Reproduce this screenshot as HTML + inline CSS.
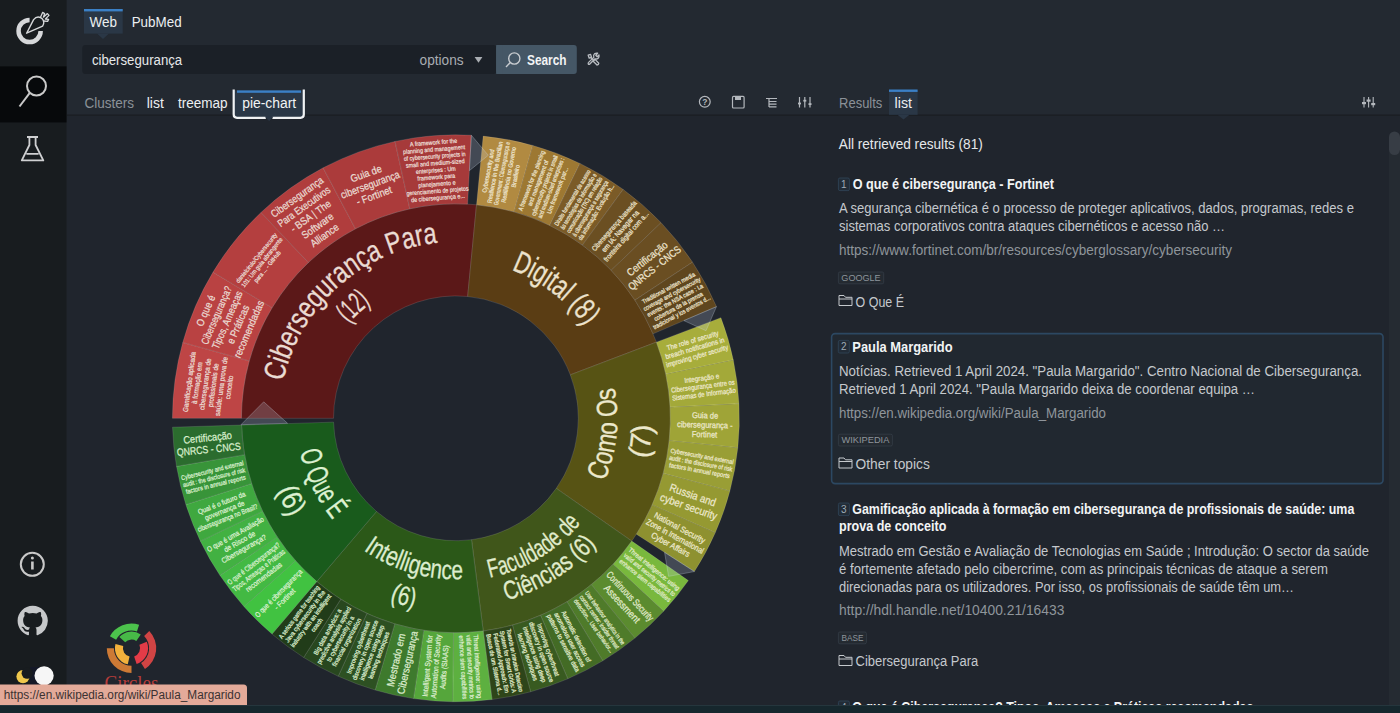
<!DOCTYPE html>
<html><head><meta charset="utf-8"><style>
html,body{margin:0;padding:0;background:#20252d;overflow:hidden}
svg{display:block;font-family:"Liberation Sans", sans-serif}
</style></head><body>
<svg width="1400" height="713" viewBox="0 0 1400 713">
<rect x="0" y="0" width="1400" height="713" fill="#20252d"/><rect x="67" y="0" width="1333" height="115" fill="#232931"/><rect x="0" y="0" width="66.5" height="713" fill="#181c1f"/><rect x="0" y="66.4" width="66.5" height="56" fill="#07090b"/><rect x="67" y="114.5" width="1333" height="1.2" fill="#1a1d22"/><path d="M 40.65 31 A 11.05 11.05 0 1 1 29.6 19.95" fill="none" stroke="#d6d8da" stroke-width="4.5"/><path d="M 26.6 33.2 L 33.6 19.6 Q 36.8 15.6 40.6 17.6 L 42.2 18.8 Q 45.2 22.2 42.6 26.2 Z" fill="#181c1f" stroke="#d6d8da" stroke-width="1.4" stroke-linejoin="round"/><path d="M 40.4 17.4 L 42.6 12.4 L 44.6 13.6 L 43.4 17.2 L 47.4 13.6 L 49 15.4 L 45.4 19 L 48.6 19.4 L 47.6 21.4 L 43.6 21" fill="none" stroke="#d6d8da" stroke-width="1.3" stroke-linejoin="round"/><g fill="none" stroke="#c9c9c9" stroke-width="2"><circle cx="36.5" cy="86" r="9.5"/><path d="M 29.8 92.8 L 19.5 106.5"/></g><path d="M 27 137 L 38 137 M 29.4 137 L 29.4 145 L 21.8 160.4 L 43.3 160.4 L 35.6 145 L 35.6 137 M 26.4 153.8 L 38.6 153.8" fill="none" stroke="#cfd0d2" stroke-width="1.8" stroke-linejoin="round"/><g fill="none" stroke="#c9c9c9" stroke-width="2"><circle cx="32.3" cy="564.3" r="11.5"/></g><rect x="31.1" y="561.5" width="2.6" height="8" fill="#c9c9c9"/><circle cx="32.4" cy="558" r="1.5" fill="#c9c9c9"/><g transform="translate(17.6,605.7) scale(1.89)"><path fill="#c6c8ca" d="M8 0C3.58 0 0 3.58 0 8c0 3.54 2.29 6.53 5.47 7.59.4.07.55-.17.55-.38 0-.19-.01-.82-.01-1.49-2.01.37-2.53-.49-2.69-.94-.09-.23-.48-.94-.82-1.13-.28-.15-.68-.52-.01-.53.63-.01 1.08.58 1.23.82.72 1.21 1.87.87 2.33.66.07-.52.28-.87.51-1.07-1.780-.2-3.640-.89-3.640-3.95 0-.87.31-1.59.82-2.15-.08-.2-.36-1.02.08-2.12 0 0 .67-.21 2.2.82.64-.18 1.32-.27 2-.27.68 0 1.36.09 2 .27 1.53-1.04 2.2-.82 2.2-.82.44 1.1.16 1.92.08 2.12.51.56.82 1.27.82 2.15 0 3.07-1.87 3.75-3.65 3.95.29.25.54.73.54 1.48 0 1.07-.01 1.93-.01 2.2 0 .21.15.46.55.38A8.013 8.013 0 0016 8c0-4.42-3.58-8-8-8z"/></g><rect x="30" y="667" width="10" height="18" fill="#141827"/><circle cx="23" cy="676.6" r="6.6" fill="#f0c84c"/><circle cx="27.2" cy="673.2" r="5.6" fill="#181c1f"/><circle cx="44.1" cy="675.8" r="9.6" fill="#f6f6f6"/><rect x="84" y="9" width="38.7" height="24.6" fill="#2a3746"/><rect x="84" y="9" width="38.7" height="2.4" fill="#3b80c6"/><path d="M 97 33.6 L 109 33.6 L 103 39 Z" fill="#2a3746"/><text x="89.6" y="26.8" font-size="14" fill="#eceff1" textLength="27.4" lengthAdjust="spacingAndGlyphs" >Web</text><text x="131.7" y="26.8" font-size="14" fill="#eceff1" textLength="49.9" lengthAdjust="spacingAndGlyphs" >PubMed</text><rect x="82.3" y="45" width="414" height="29" rx="3" fill="#1b2027"/><text x="91.9" y="64.6" font-size="14" fill="#e6e8ea" textLength="90.3" lengthAdjust="spacingAndGlyphs" >cibersegurança</text><text x="419.6" y="64.6" font-size="14" fill="#a9adb2" textLength="44.0" lengthAdjust="spacingAndGlyphs" >options</text><path d="M 474.6 57 L 482.4 57 L 478.5 62.8 Z" fill="#a9adb2"/><rect x="496.2" y="45" width="80.6" height="29" rx="3" fill="#455766"/><rect x="496.2" y="45" width="6" height="29" fill="#455766"/><g fill="none" stroke="#c8ccd0" stroke-width="1.4"><circle cx="514.3" cy="58.5" r="5.6"/><path d="M 510.3 62.5 L 506 67"/></g><text x="527.0" y="64.6" font-size="14" fill="#f2f4f5" font-weight="bold" textLength="39.6" lengthAdjust="spacingAndGlyphs" >Search</text><g fill="none" stroke="#b9bdc2" stroke-width="1.3" stroke-linecap="round" stroke-linejoin="round"><path d="M 588.2 55.2 L 590.6 54.4 L 591.6 57.4 L 589.2 58.2 Z"/><path d="M 590.6 57.2 L 593.6 60.2"/><path d="M 593.2 61.2 L 595 59.4 L 598.8 63.2 Q 598.8 65 597 65 Z"/><path d="M 588.4 64.2 Q 587.8 63 588.6 62.4 L 593.8 57.4 Q 593 55 594.8 53.6 Q 596.2 52.8 597.6 53.2 L 595.8 55.2 L 597.2 56.8 L 599 55 Q 599.4 57 598.2 58.2 Q 596.8 59.4 595 58.8 L 589.8 64 Q 589 64.8 588.4 64.2 Z"/></g><text x="84.4" y="108.0" font-size="14" fill="#8b9198" textLength="49.7" lengthAdjust="spacingAndGlyphs" >Clusters</text><text x="146.7" y="108.0" font-size="14" fill="#eceff1" textLength="17.1" lengthAdjust="spacingAndGlyphs" >list</text><text x="177.9" y="108.0" font-size="14" fill="#eceff1" textLength="49.7" lengthAdjust="spacingAndGlyphs" >treemap</text><rect x="234" y="90.4" width="69.6" height="27.2" fill="#2a3746"/><rect x="237" y="90.4" width="64" height="2.4" fill="#3b80c6"/><path d="M 233.7 89.5 L 233.7 114.6 Q 233.7 117.8 237 117.8 L 265.8 117.8 M 272.4 117.8 L 300.5 117.8 Q 303.8 117.8 303.8 114.6 L 303.8 89.5" fill="none" stroke="#f0f2f4" stroke-width="2.2"/><path d="M 264.6 116.6 L 273.6 116.6 L 269.1 121 Z" fill="#2a3746"/><text x="242.2" y="108.0" font-size="14" fill="#f2f4f5" textLength="54.0" lengthAdjust="spacingAndGlyphs" >pie-chart</text><g fill="none" stroke="#b4b8bd" stroke-width="1.2"><circle cx="704.8" cy="101.8" r="5.4"/><rect x="732.5" y="96.4" width="11.6" height="11.6" rx="1"/></g><text x="704.8" y="104.8" font-size="8.5" fill="#b4b8bd" font-weight="bold" text-anchor="middle" >?</text><rect x="735" y="96.4" width="6" height="3.6" fill="#b4b8bd"/><g stroke="#b4b8bd" stroke-width="1.2"><path d="M 766 98.5 L 777 98.5 M 769 98.5 L 769 107 M 769 101.5 L 776.5 101.5 M 769 104.2 L 776.5 104.2 M 769 106.8 L 776.5 106.8"/><path d="M 799.5 97 L 799.5 107.5 M 804.8 97 L 804.8 107.5 M 810 97 L 810 107.5"/></g><g fill="#b4b8bd"><rect x="798" y="102.6" width="3" height="1.8"/><rect x="803.3" y="99.8" width="3" height="1.8"/><rect x="808.5" y="103.2" width="3" height="1.8"/></g><text x="839.1" y="108.0" font-size="14" fill="#8b9198" textLength="43.2" lengthAdjust="spacingAndGlyphs" >Results</text><rect x="889" y="90.4" width="28.6" height="24.4" fill="#2a3746"/><rect x="889" y="89.5" width="28.6" height="2.4" fill="#3b80c6"/><path d="M 897.5 114.8 L 909.5 114.8 L 903.5 119.5 Z" fill="#2a3746"/><text x="894.6" y="108.0" font-size="14" fill="#eceff1" textLength="17.4" lengthAdjust="spacingAndGlyphs" >list</text><g stroke="#b4b8bd" stroke-width="1.1"><path d="M 1364 97 L 1364 107.5 M 1368.6 97 L 1368.6 107.5 M 1373.2 97 L 1373.2 107.5"/></g><g fill="#b4b8bd"><rect x="1362" y="102" width="4" height="2.2"/><rect x="1366.6" y="99.5" width="4" height="2.2"/><rect x="1371.2" y="103" width="4" height="2.2"/></g><rect x="1389" y="152" width="11" height="553" fill="#252b32"/><rect x="1389" y="131.4" width="11" height="23.6" rx="5.5" fill="#373d45"/><text x="838.8" y="148.6" font-size="14" fill="#e6e8ea" textLength="144.0" lengthAdjust="spacingAndGlyphs" >All retrieved results (81)</text><rect x="838.4" y="178" width="11" height="12.6" rx="1.5" fill="#222c37" stroke="#2f4356" stroke-width="0.9"/><text x="843.9" y="188.0" font-size="10" fill="#9fabb6" text-anchor="middle" >1</text><text x="852.7" y="189.0" font-size="14" fill="#f2f4f5" font-weight="bold" textLength="201.3" lengthAdjust="spacingAndGlyphs" >O que é cibersegurança - Fortinet</text><text x="839.0" y="213.0" font-size="14" fill="#c5c9cd" textLength="515.0" lengthAdjust="spacingAndGlyphs" >A segurança cibernética é o processo de proteger aplicativos, dados, programas, redes e</text><text x="839.0" y="231.0" font-size="14" fill="#c5c9cd" textLength="386.0" lengthAdjust="spacingAndGlyphs" >sistemas corporativos contra ataques cibernéticos e acesso não …</text><text x="839.0" y="255.2" font-size="14" fill="#8f959b" textLength="393.0" lengthAdjust="spacingAndGlyphs" >https://www.fortinet.com/br/resources/cyberglossary/cybersecurity</text><rect x="838.4" y="272" width="45.3" height="11.8" rx="1.5" fill="#242a31" stroke="#353d47" stroke-width="0.8"/><text x="861.0" y="281.2" font-size="9" fill="#8e959c" text-anchor="middle" textLength="39.3" lengthAdjust="spacingAndGlyphs" >GOOGLE</text><path d="M 839 295.5 L 844 295.5 L 845.5 297.3 L 852 297.3 L 852 305.5 L 839 305.5 Z M 839 299.0 L 852 299.0" fill="none" stroke="#c5c9cd" stroke-width="1"/><text x="855.6" y="306.8" font-size="14" fill="#c5c9cd" textLength="48.4" lengthAdjust="spacingAndGlyphs" >O Que É</text><rect x="831.6" y="333.6" width="551.4" height="150" rx="3.5" fill="#212830" stroke="#2c4862" stroke-width="1.6"/><rect x="838.3" y="340.4" width="11" height="12.6" rx="1.5" fill="#222c37" stroke="#2f4356" stroke-width="0.9"/><text x="843.8" y="350.4" font-size="10" fill="#9fabb6" text-anchor="middle" >2</text><text x="852.3" y="352.0" font-size="14" fill="#f2f4f5" font-weight="bold" textLength="100.3" lengthAdjust="spacingAndGlyphs" >Paula Margarido</text><text x="839.0" y="376.0" font-size="14" fill="#c5c9cd" textLength="523.0" lengthAdjust="spacingAndGlyphs" >Notícias. Retrieved 1 April 2024. &quot;Paula Margarido&quot;. Centro Nacional de Cibersegurança.</text><text x="839.0" y="393.5" font-size="14" fill="#c5c9cd" textLength="416.0" lengthAdjust="spacingAndGlyphs" >Retrieved 1 April 2024. &quot;Paula Margarido deixa de coordenar equipa …</text><text x="839.0" y="418.0" font-size="14" fill="#8f959b" textLength="267.0" lengthAdjust="spacingAndGlyphs" >https://en.wikipedia.org/wiki/Paula_Margarido</text><rect x="838.4" y="434.2" width="54" height="11.8" rx="1.5" fill="#242a31" stroke="#353d47" stroke-width="0.8"/><text x="865.4" y="443.4" font-size="9" fill="#8e959c" text-anchor="middle" textLength="48.0" lengthAdjust="spacingAndGlyphs" >WIKIPEDIA</text><path d="M 839 458 L 844 458 L 845.5 459.8 L 852 459.8 L 852 468 L 839 468 Z M 839 461.5 L 852 461.5" fill="none" stroke="#c5c9cd" stroke-width="1"/><text x="855.6" y="469.2" font-size="14" fill="#c5c9cd" textLength="74.2" lengthAdjust="spacingAndGlyphs" >Other topics</text><rect x="838.4" y="503" width="11" height="12.6" rx="1.5" fill="#222c37" stroke="#2f4356" stroke-width="0.9"/><text x="843.9" y="513.0" font-size="10" fill="#9fabb6" text-anchor="middle" >3</text><text x="852.3" y="513.6" font-size="14" fill="#f2f4f5" font-weight="bold" textLength="502.0" lengthAdjust="spacingAndGlyphs" >Gamificação aplicada à formação em cibersegurança de profissionais de saúde: uma</text><text x="839.0" y="531.4" font-size="14" fill="#f2f4f5" font-weight="bold" textLength="107.3" lengthAdjust="spacingAndGlyphs" >prova de conceito</text><text x="839.0" y="556.3" font-size="14" fill="#c5c9cd" textLength="530.0" lengthAdjust="spacingAndGlyphs" >Mestrado em Gestão e Avaliação de Tecnologias em Saúde ; Introdução: O sector da saúde</text><text x="839.0" y="573.8" font-size="14" fill="#c5c9cd" textLength="489.0" lengthAdjust="spacingAndGlyphs" >é fortemente afetado pelo cibercrime, com as principais técnicas de ataque a serem</text><text x="839.0" y="591.5" font-size="14" fill="#c5c9cd" textLength="455.0" lengthAdjust="spacingAndGlyphs" >direcionadas para os utilizadores. Por isso, os profissionais de saúde têm um…</text><text x="839.0" y="615.0" font-size="14" fill="#8f959b" textLength="225.4" lengthAdjust="spacingAndGlyphs" >http://hdl.handle.net/10400.21/16433</text><rect x="838.4" y="632" width="28" height="11.8" rx="1.5" fill="#242a31" stroke="#353d47" stroke-width="0.8"/><text x="852.4" y="641.2" font-size="9" fill="#8e959c" text-anchor="middle" textLength="22.0" lengthAdjust="spacingAndGlyphs" >BASE</text><path d="M 839 655.5 L 844 655.5 L 845.5 657.3 L 852 657.3 L 852 665.5 L 839 665.5 Z M 839 659.0 L 852 659.0" fill="none" stroke="#c5c9cd" stroke-width="1"/><text x="855.6" y="666.4" font-size="14" fill="#c5c9cd" textLength="122.6" lengthAdjust="spacingAndGlyphs" >Cibersegurança Para</text><rect x="838.4" y="701" width="11" height="12.6" rx="1.5" fill="#222c37" stroke="#2f4356" stroke-width="0.9"/><text x="843.9" y="711.0" font-size="10" fill="#9fabb6" text-anchor="middle" >4</text><text x="852.3" y="711.5" font-size="14" fill="#f2f4f5" font-weight="bold" textLength="401.0" lengthAdjust="spacingAndGlyphs" >O que é Cibersegurança? Tipos, Ameaças e Práticas recomendadas</text>
<defs><path id="p0_0" d="M 283.26 381.60 A 176.5 176.5 0 0 1 437.45 242.77"/><path id="p0_1" d="M 348.80 323.55 A 143 143 0 0 1 370.84 303.35"/><path id="p1_0" d="M 511.41 269.84 A 158.5 158.5 0 0 1 584.94 326.26"/><path id="p2_0" d="M 604.56 481.40 A 161.5 161.5 0 0 0 614.43 387.48"/><path id="p2_1" d="M 647.62 459.05 A 196 196 0 0 0 651.78 425.14"/><path id="p3_0" d="M 489.79 577.74 A 163 163 0 0 0 580.77 523.07"/><path id="p3_1" d="M 506.41 600.43 A 189 189 0 0 0 596.35 544.77"/><path id="p4_0" d="M 363.55 550.18 A 161 161 0 0 0 462.92 579.15"/><path id="p4_1" d="M 389.55 600.60 A 194 194 0 0 0 413.91 607.70"/><path id="p5_0" d="M 299.89 451.46 A 159.5 159.5 0 0 0 332.83 519.75"/><path id="p5_1" d="M 276.95 490.60 A 193 193 0 0 0 290.47 517.70"/></defs><path d="M 241.40 418.30 A 214.5 214.5 0 0 1 476.53 204.79 L 467.67 296.47 A 122.4 122.4 0 0 0 333.50 418.30 Z" fill="#5b1818" stroke="rgba(255,255,255,0.16)" stroke-width="0.8"/><path d="M 172.40 418.30 A 283.5 283.5 0 0 1 182.74 342.44 L 249.22 360.91 A 214.5 214.5 0 0 0 241.40 418.30 Z" fill="#be4545" stroke="rgba(255,255,255,0.16)" stroke-width="0.8"/><path d="M 182.74 342.44 A 283.5 283.5 0 0 1 213.00 272.12 L 272.11 307.70 A 214.5 214.5 0 0 0 249.22 360.91 Z" fill="#b94242" stroke="rgba(255,255,255,0.16)" stroke-width="0.8"/><path d="M 213.00 272.12 A 283.5 283.5 0 0 1 260.97 212.45 L 308.41 262.55 A 214.5 214.5 0 0 0 272.11 307.70 Z" fill="#b43f3f" stroke="rgba(255,255,255,0.16)" stroke-width="0.8"/><path d="M 260.97 212.45 A 283.5 283.5 0 0 1 323.15 167.80 L 355.46 228.77 A 214.5 214.5 0 0 0 308.41 262.55 Z" fill="#b03d3d" stroke="rgba(255,255,255,0.16)" stroke-width="0.8"/><path d="M 323.15 167.80 A 283.5 283.5 0 0 1 395.02 141.41 L 409.84 208.80 A 214.5 214.5 0 0 0 355.46 228.77 Z" fill="#ab3b3b" stroke="rgba(255,255,255,0.16)" stroke-width="0.8"/><path d="M 395.02 141.41 A 283.5 283.5 0 0 1 471.33 135.22 L 467.57 204.12 A 214.5 214.5 0 0 0 409.84 208.80 Z" fill="#a63a3a" stroke="rgba(255,255,255,0.16)" stroke-width="0.8"/><path d="M 476.53 204.79 A 214.5 214.5 0 0 1 656.42 342.13 L 570.32 374.83 A 122.4 122.4 0 0 0 467.67 296.47 Z" fill="#5a3d14" stroke="rgba(255,255,255,0.16)" stroke-width="0.8"/><path d="M 483.17 136.11 A 283.5 283.5 0 0 1 532.77 145.42 L 514.06 211.84 A 214.5 214.5 0 0 0 476.53 204.79 Z" fill="#b18a41" stroke="rgba(255,255,255,0.16)" stroke-width="0.8"/><path d="M 532.77 145.42 A 283.5 283.5 0 0 1 579.94 163.38 L 549.75 225.42 A 214.5 214.5 0 0 0 514.06 211.84 Z" fill="#9d7832" stroke="rgba(255,255,255,0.16)" stroke-width="0.8"/><path d="M 579.94 163.38 A 283.5 283.5 0 0 1 623.18 189.41 L 582.46 245.12 A 214.5 214.5 0 0 0 549.75 225.42 Z" fill="#7b5b27" stroke="rgba(255,255,255,0.16)" stroke-width="0.8"/><path d="M 623.18 189.41 A 283.5 283.5 0 0 1 661.11 222.70 L 611.17 270.30 A 214.5 214.5 0 0 0 582.46 245.12 Z" fill="#6b4f22" stroke="rgba(255,255,255,0.16)" stroke-width="0.8"/><path d="M 661.11 222.70 A 283.5 283.5 0 0 1 692.54 262.18 L 634.95 300.18 A 214.5 214.5 0 0 0 611.17 270.30 Z" fill="#6a4e22" stroke="rgba(255,255,255,0.16)" stroke-width="0.8"/><path d="M 692.54 262.18 A 283.5 283.5 0 0 1 716.47 306.62 L 653.05 333.80 A 214.5 214.5 0 0 0 634.95 300.18 Z" fill="#5f461e" stroke="rgba(255,255,255,0.16)" stroke-width="0.8"/><path d="M 656.42 342.13 A 214.5 214.5 0 0 1 631.78 541.09 L 556.26 488.37 A 122.4 122.4 0 0 0 570.32 374.83 Z" fill="#575314" stroke="rgba(255,255,255,0.16)" stroke-width="0.8"/><path d="M 720.92 317.63 A 283.5 283.5 0 0 1 733.33 359.94 L 665.81 374.14 A 214.5 214.5 0 0 0 656.42 342.13 Z" fill="#a7ad3b" stroke="rgba(255,255,255,0.16)" stroke-width="0.8"/><path d="M 733.33 359.94 A 283.5 283.5 0 0 1 739.02 403.66 L 670.11 407.22 A 214.5 214.5 0 0 0 665.81 374.14 Z" fill="#a3a939" stroke="rgba(255,255,255,0.16)" stroke-width="0.8"/><path d="M 739.02 403.66 A 283.5 283.5 0 0 1 737.87 447.74 L 669.24 440.57 A 214.5 214.5 0 0 0 670.11 407.22 Z" fill="#9fa437" stroke="rgba(255,255,255,0.16)" stroke-width="0.8"/><path d="M 737.87 447.74 A 283.5 283.5 0 0 1 729.89 491.10 L 663.21 473.38 A 214.5 214.5 0 0 0 669.24 440.57 Z" fill="#999e35" stroke="rgba(255,255,255,0.16)" stroke-width="0.8"/><path d="M 729.89 491.10 A 283.5 283.5 0 0 1 715.29 532.71 L 652.16 504.86 A 214.5 214.5 0 0 0 663.21 473.38 Z" fill="#959932" stroke="rgba(255,255,255,0.16)" stroke-width="0.8"/><path d="M 715.29 532.71 A 283.5 283.5 0 0 1 694.41 571.54 L 636.36 534.24 A 214.5 214.5 0 0 0 652.16 504.86 Z" fill="#8e9130" stroke="rgba(255,255,255,0.16)" stroke-width="0.8"/><path d="M 631.78 541.09 A 214.5 214.5 0 0 1 483.23 631.05 L 471.50 539.70 A 122.4 122.4 0 0 0 556.26 488.37 Z" fill="#40561a" stroke="rgba(255,255,255,0.16)" stroke-width="0.8"/><path d="M 688.36 580.58 A 283.5 283.5 0 0 1 663.64 611.21 L 613.08 564.26 A 214.5 214.5 0 0 0 631.78 541.09 Z" fill="#79b83d" stroke="rgba(255,255,255,0.16)" stroke-width="0.8"/><path d="M 663.64 611.21 A 283.5 283.5 0 0 1 634.93 638.12 L 591.35 584.62 A 214.5 214.5 0 0 0 613.08 564.26 Z" fill="#5b8b2f" stroke="rgba(255,255,255,0.16)" stroke-width="0.8"/><path d="M 634.93 638.12 A 283.5 283.5 0 0 1 602.76 660.80 L 567.02 601.78 A 214.5 214.5 0 0 0 591.35 584.62 Z" fill="#4f7b2a" stroke="rgba(255,255,255,0.16)" stroke-width="0.8"/><path d="M 602.76 660.80 A 283.5 283.5 0 0 1 567.76 678.80 L 540.54 615.40 A 214.5 214.5 0 0 0 567.02 601.78 Z" fill="#436b25" stroke="rgba(255,255,255,0.16)" stroke-width="0.8"/><path d="M 567.76 678.80 A 283.5 283.5 0 0 1 530.61 691.78 L 512.43 625.22 A 214.5 214.5 0 0 0 540.54 615.40 Z" fill="#385a20" stroke="rgba(255,255,255,0.16)" stroke-width="0.8"/><path d="M 530.61 691.78 A 283.5 283.5 0 0 1 492.02 699.49 L 483.23 631.05 A 214.5 214.5 0 0 0 512.43 625.22 Z" fill="#2e4519" stroke="rgba(255,255,255,0.16)" stroke-width="0.8"/><path d="M 483.23 631.05 A 214.5 214.5 0 0 1 316.76 581.55 L 376.51 511.46 A 122.4 122.4 0 0 0 471.50 539.70 Z" fill="#2b5818" stroke="rgba(255,255,255,0.16)" stroke-width="0.8"/><path d="M 492.02 699.49 A 283.5 283.5 0 0 1 452.73 701.78 L 453.50 632.79 A 214.5 214.5 0 0 0 483.23 631.05 Z" fill="#5db040" stroke="rgba(255,255,255,0.16)" stroke-width="0.8"/><path d="M 452.73 701.78 A 283.5 283.5 0 0 1 413.51 698.61 L 423.82 630.39 A 214.5 214.5 0 0 0 453.50 632.79 Z" fill="#55a63b" stroke="rgba(255,255,255,0.16)" stroke-width="0.8"/><path d="M 413.51 698.61 A 283.5 283.5 0 0 1 375.10 690.04 L 394.76 623.90 A 214.5 214.5 0 0 0 423.82 630.39 Z" fill="#3e7a2d" stroke="rgba(255,255,255,0.16)" stroke-width="0.8"/><path d="M 375.10 690.04 A 283.5 283.5 0 0 1 338.24 676.23 L 366.88 613.46 A 214.5 214.5 0 0 0 394.76 623.90 Z" fill="#2d5022" stroke="rgba(255,255,255,0.16)" stroke-width="0.8"/><path d="M 338.24 676.23 A 283.5 283.5 0 0 1 303.66 657.45 L 340.71 599.25 A 214.5 214.5 0 0 0 366.88 613.46 Z" fill="#28471f" stroke="rgba(255,255,255,0.16)" stroke-width="0.8"/><path d="M 303.66 657.45 A 283.5 283.5 0 0 1 272.01 634.07 L 316.76 581.55 A 214.5 214.5 0 0 0 340.71 599.25 Z" fill="#213c19" stroke="rgba(255,255,255,0.16)" stroke-width="0.8"/><path d="M 316.76 581.55 A 214.5 214.5 0 0 1 241.51 425.04 L 333.56 422.14 A 122.4 122.4 0 0 0 376.51 511.46 Z" fill="#195b1c" stroke="rgba(255,255,255,0.16)" stroke-width="0.8"/><path d="M 272.01 634.07 A 283.5 283.5 0 0 1 243.90 606.52 L 295.50 560.71 A 214.5 214.5 0 0 0 316.76 581.55 Z" fill="#41c241" stroke="rgba(255,255,255,0.16)" stroke-width="0.8"/><path d="M 243.90 606.52 A 283.5 283.5 0 0 1 219.88 575.35 L 277.32 537.13 A 214.5 214.5 0 0 0 295.50 560.71 Z" fill="#43b943" stroke="rgba(255,255,255,0.16)" stroke-width="0.8"/><path d="M 219.88 575.35 A 283.5 283.5 0 0 1 200.40 541.15 L 262.59 511.25 A 214.5 214.5 0 0 0 277.32 537.13 Z" fill="#42b142" stroke="rgba(255,255,255,0.16)" stroke-width="0.8"/><path d="M 200.40 541.15 A 283.5 283.5 0 0 1 185.85 504.59 L 251.58 483.59 A 214.5 214.5 0 0 0 262.59 511.25 Z" fill="#3fa83f" stroke="rgba(255,255,255,0.16)" stroke-width="0.8"/><path d="M 185.85 504.59 A 283.5 283.5 0 0 1 176.50 466.36 L 244.50 454.66 A 214.5 214.5 0 0 0 251.58 483.59 Z" fill="#389439" stroke="rgba(255,255,255,0.16)" stroke-width="0.8"/><path d="M 176.50 466.36 A 283.5 283.5 0 0 1 172.54 427.20 L 241.51 425.04 A 214.5 214.5 0 0 0 244.50 454.66 Z" fill="#2b6c2e" stroke="rgba(255,255,255,0.16)" stroke-width="0.8"/><g fill="#eadbd3" stroke="#eadbd3" stroke-width="0.25"><g transform="translate(455.9,418.3) rotate(277.76)"><text x="0" y="-266.64" text-anchor="middle" font-size="7.2" textLength="60.6" lengthAdjust="spacingAndGlyphs">Gamificação aplicada</text><text x="0" y="-258.58" text-anchor="middle" font-size="7.2" textLength="42.3" lengthAdjust="spacingAndGlyphs">à formação em</text><text x="0" y="-250.51" text-anchor="middle" font-size="7.2" textLength="52.1" lengthAdjust="spacingAndGlyphs">cibersegurança de</text><text x="0" y="-242.45" text-anchor="middle" font-size="7.2" textLength="44.0" lengthAdjust="spacingAndGlyphs">profissionais de</text><text x="0" y="-234.38" text-anchor="middle" font-size="7.2" textLength="59.5" lengthAdjust="spacingAndGlyphs">saúde: uma prova de</text><text x="0" y="-226.32" text-anchor="middle" font-size="7.2" textLength="23.6" lengthAdjust="spacingAndGlyphs">conceito</text></g></g><g fill="#eadbd3" stroke="#eadbd3" stroke-width="0.25"><g transform="translate(455.9,418.3) rotate(293.28)"><text x="0" y="-268.84" text-anchor="middle" font-size="10.5" textLength="32.9" lengthAdjust="spacingAndGlyphs">O que é</text><text x="0" y="-257.08" text-anchor="middle" font-size="10.5" textLength="62.0" lengthAdjust="spacingAndGlyphs">Cibersegurança?</text><text x="0" y="-245.32" text-anchor="middle" font-size="10.5" textLength="62.0" lengthAdjust="spacingAndGlyphs">Tipos, Ameaças</text><text x="0" y="-233.56" text-anchor="middle" font-size="10.5" textLength="41.1" lengthAdjust="spacingAndGlyphs">e Práticas</text><text x="0" y="-221.80" text-anchor="middle" font-size="10.5" textLength="61.1" lengthAdjust="spacingAndGlyphs">recomendadas</text></g></g><g fill="#eadbd3" stroke="#eadbd3" stroke-width="0.25"><g transform="translate(455.9,418.3) rotate(308.80)"><text x="0" y="-253.77" text-anchor="middle" font-size="6.2" textLength="62.0" lengthAdjust="spacingAndGlyphs">danielcirulo/Cybersecurity</text><text x="0" y="-246.83" text-anchor="middle" font-size="6.2" textLength="61.6" lengthAdjust="spacingAndGlyphs">101: Um guia abrangente</text><text x="0" y="-239.89" text-anchor="middle" font-size="6.2" textLength="38.8" lengthAdjust="spacingAndGlyphs">para ... - GitHub</text></g></g><g fill="#eadbd3" stroke="#eadbd3" stroke-width="0.25"><g transform="translate(455.9,418.3) rotate(324.32)"><text x="0" y="-268.84" text-anchor="middle" font-size="10.5" textLength="62.0" lengthAdjust="spacingAndGlyphs">Cibersegurança</text><text x="0" y="-257.08" text-anchor="middle" font-size="10.5" textLength="62.0" lengthAdjust="spacingAndGlyphs">Para Executivos</text><text x="0" y="-245.32" text-anchor="middle" font-size="10.5" textLength="46.9" lengthAdjust="spacingAndGlyphs">- BSA | The</text><text x="0" y="-233.56" text-anchor="middle" font-size="10.5" textLength="36.5" lengthAdjust="spacingAndGlyphs">Software</text><text x="0" y="-221.80" text-anchor="middle" font-size="10.5" textLength="32.4" lengthAdjust="spacingAndGlyphs">Alliance</text></g></g><g fill="#eadbd3" stroke="#eadbd3" stroke-width="0.25"><g transform="translate(455.9,418.3) rotate(339.84)"><text x="0" y="-257.08" text-anchor="middle" font-size="10.5" textLength="32.4" lengthAdjust="spacingAndGlyphs">Guia de</text><text x="0" y="-245.32" text-anchor="middle" font-size="10.5" textLength="62.0" lengthAdjust="spacingAndGlyphs">cibersegurança</text><text x="0" y="-233.56" text-anchor="middle" font-size="10.5" textLength="37.0" lengthAdjust="spacingAndGlyphs">- Fortinet</text></g></g><g fill="#eadbd3" stroke="#eadbd3" stroke-width="0.25"><g transform="translate(455.9,418.3) rotate(355.36)"><text x="0" y="-274.61" text-anchor="middle" font-size="6.2" textLength="47.3" lengthAdjust="spacingAndGlyphs">A framework for the</text><text x="0" y="-267.66" text-anchor="middle" font-size="6.2" textLength="62.0" lengthAdjust="spacingAndGlyphs">planning and management</text><text x="0" y="-260.72" text-anchor="middle" font-size="6.2" textLength="62.0" lengthAdjust="spacingAndGlyphs">of cybersecurity projects in</text><text x="0" y="-253.77" text-anchor="middle" font-size="6.2" textLength="58.8" lengthAdjust="spacingAndGlyphs">small and medium-sized</text><text x="0" y="-246.83" text-anchor="middle" font-size="6.2" textLength="40.0" lengthAdjust="spacingAndGlyphs">enterprises : Um</text><text x="0" y="-239.89" text-anchor="middle" font-size="6.2" textLength="37.9" lengthAdjust="spacingAndGlyphs">framework para</text><text x="0" y="-232.94" text-anchor="middle" font-size="6.2" textLength="37.3" lengthAdjust="spacingAndGlyphs">planejamento e</text><text x="0" y="-226.00" text-anchor="middle" font-size="6.2" textLength="62.0" lengthAdjust="spacingAndGlyphs">gerenciamento de projetos</text><text x="0" y="-219.05" text-anchor="middle" font-size="6.2" textLength="54.0" lengthAdjust="spacingAndGlyphs">de cibersegurança e...</text></g></g><text font-size="30" fill="#eadbd3" stroke="#eadbd3" stroke-width="0.3"><textPath href="#p0_0" textLength="221.8" lengthAdjust="spacingAndGlyphs">Cibersegurança Para</textPath></text><text font-size="29" fill="#eadbd3" stroke="#eadbd3" stroke-width="0.3"><textPath href="#p0_1" textLength="29.9" lengthAdjust="spacingAndGlyphs">(12)</textPath></text><g fill="#ece2cc" stroke="#ece2cc" stroke-width="0.25"><g transform="translate(455.9,418.3) rotate(-79.37)"><text x="249.00" y="-11.72" text-anchor="middle" font-size="6.2" textLength="44.0" lengthAdjust="spacingAndGlyphs">Cybersecurity and</text><text x="249.00" y="-4.77" text-anchor="middle" font-size="6.2" textLength="62.5" lengthAdjust="spacingAndGlyphs">Resilience in the Brazilian</text><text x="249.00" y="2.17" text-anchor="middle" font-size="6.2" textLength="64.0" lengthAdjust="spacingAndGlyphs">Government : Cibersegurança e</text><text x="249.00" y="9.11" text-anchor="middle" font-size="6.2" textLength="56.4" lengthAdjust="spacingAndGlyphs">Resiliência no Governo</text><text x="249.00" y="16.06" text-anchor="middle" font-size="6.2" textLength="22.7" lengthAdjust="spacingAndGlyphs">Brasileiro</text></g></g><g fill="#ece2cc" stroke="#ece2cc" stroke-width="0.25"><g transform="translate(455.9,418.3) rotate(-69.16)"><text x="249.00" y="-11.72" text-anchor="middle" font-size="6.2" textLength="64.0" lengthAdjust="spacingAndGlyphs">A framework for the planning</text><text x="249.00" y="-4.77" text-anchor="middle" font-size="6.2" textLength="48.5" lengthAdjust="spacingAndGlyphs">and management of</text><text x="249.00" y="2.17" text-anchor="middle" font-size="6.2" textLength="64.0" lengthAdjust="spacingAndGlyphs">cybersecurity projects in small</text><text x="249.00" y="9.11" text-anchor="middle" font-size="6.2" textLength="64.0" lengthAdjust="spacingAndGlyphs">and medium-sized enterprises :</text><text x="249.00" y="16.06" text-anchor="middle" font-size="6.2" textLength="49.1" lengthAdjust="spacingAndGlyphs">Um framework par...</text></g></g><g fill="#ece2cc" stroke="#ece2cc" stroke-width="0.25"><g transform="translate(455.9,418.3) rotate(-58.95)"><text x="249.00" y="-11.72" text-anchor="middle" font-size="6.2" textLength="64.0" lengthAdjust="spacingAndGlyphs">Direito fundamental de acesso</text><text x="249.00" y="-4.77" text-anchor="middle" font-size="6.2" textLength="64.0" lengthAdjust="spacingAndGlyphs">às tecnologias de informação e</text><text x="249.00" y="2.17" text-anchor="middle" font-size="6.2" textLength="64.0" lengthAdjust="spacingAndGlyphs">comunicação (TIC) em relação</text><text x="249.00" y="9.11" text-anchor="middle" font-size="6.2" textLength="64.0" lengthAdjust="spacingAndGlyphs">à cibersegurança e segurança</text><text x="249.00" y="16.06" text-anchor="middle" font-size="6.2" textLength="64.0" lengthAdjust="spacingAndGlyphs">da informação: Evolução h...</text></g></g><g fill="#ece2cc" stroke="#ece2cc" stroke-width="0.25"><g transform="translate(455.9,418.3) rotate(-48.73)"><text x="249.00" y="-5.54" text-anchor="middle" font-size="7.2" textLength="64.0" lengthAdjust="spacingAndGlyphs">Cibersegurança baseada</text><text x="249.00" y="2.52" text-anchor="middle" font-size="7.2" textLength="52.8" lengthAdjust="spacingAndGlyphs">em IA: Navegar na</text><text x="249.00" y="10.58" text-anchor="middle" font-size="7.2" textLength="64.0" lengthAdjust="spacingAndGlyphs">fronteira digital com a...</text></g></g><g fill="#ece2cc" stroke="#ece2cc" stroke-width="0.25"><g transform="translate(455.9,418.3) rotate(-38.52)"><text x="249.00" y="-2.21" text-anchor="middle" font-size="10.5" textLength="48.8" lengthAdjust="spacingAndGlyphs">Certificação</text><text x="249.00" y="9.55" text-anchor="middle" font-size="10.5" textLength="64.0" lengthAdjust="spacingAndGlyphs">QNRCS - CNCS</text></g></g><g fill="#ece2cc" stroke="#ece2cc" stroke-width="0.25"><g transform="translate(455.9,418.3) rotate(-28.31)"><text x="249.00" y="-11.72" text-anchor="middle" font-size="6.2" textLength="59.2" lengthAdjust="spacingAndGlyphs">Traditional written media</text><text x="249.00" y="-4.77" text-anchor="middle" font-size="6.2" textLength="64.0" lengthAdjust="spacingAndGlyphs">coverage and cybersecurity</text><text x="249.00" y="2.17" text-anchor="middle" font-size="6.2" textLength="62.8" lengthAdjust="spacingAndGlyphs">events: the NSA case : La</text><text x="249.00" y="9.11" text-anchor="middle" font-size="6.2" textLength="54.6" lengthAdjust="spacingAndGlyphs">cobertura de la prensa</text><text x="249.00" y="16.06" text-anchor="middle" font-size="6.2" textLength="64.0" lengthAdjust="spacingAndGlyphs">tradicional y los eventos d...</text></g></g><text font-size="31" fill="#ece2cc" stroke="#ece2cc" stroke-width="0.3"><textPath href="#p1_0" textLength="94.1" lengthAdjust="spacingAndGlyphs">Digital (8)</textPath></text><g fill="#ece8cc" stroke="#ece8cc" stroke-width="0.25"><g transform="translate(455.9,418.3) rotate(-16.34)"><text x="249.00" y="-5.54" text-anchor="middle" font-size="7.2" textLength="53.9" lengthAdjust="spacingAndGlyphs">The role of security</text><text x="249.00" y="2.52" text-anchor="middle" font-size="7.2" textLength="61.3" lengthAdjust="spacingAndGlyphs">breach notifications in</text><text x="249.00" y="10.58" text-anchor="middle" font-size="7.2" textLength="64.0" lengthAdjust="spacingAndGlyphs">improving cyber security</text></g></g><g fill="#ece8cc" stroke="#ece8cc" stroke-width="0.25"><g transform="translate(455.9,418.3) rotate(-7.42)"><text x="249.00" y="-5.54" text-anchor="middle" font-size="7.2" textLength="35.2" lengthAdjust="spacingAndGlyphs">Integração e</text><text x="249.00" y="2.52" text-anchor="middle" font-size="7.2" textLength="64.0" lengthAdjust="spacingAndGlyphs">Cibersegurança entre os</text><text x="249.00" y="10.58" text-anchor="middle" font-size="7.2" textLength="64.0" lengthAdjust="spacingAndGlyphs">Sistemas de Informação</text></g></g><g fill="#ece8cc" stroke="#ece8cc" stroke-width="0.25"><g transform="translate(455.9,418.3) rotate(1.50)"><text x="249.00" y="-6.55" text-anchor="middle" font-size="8.5" textLength="26.2" lengthAdjust="spacingAndGlyphs">Guia de</text><text x="249.00" y="2.97" text-anchor="middle" font-size="8.5" textLength="55.7" lengthAdjust="spacingAndGlyphs">cibersegurança -</text><text x="249.00" y="12.50" text-anchor="middle" font-size="8.5" textLength="25.4" lengthAdjust="spacingAndGlyphs">Fortinet</text></g></g><g fill="#ece8cc" stroke="#ece8cc" stroke-width="0.25"><g transform="translate(455.9,418.3) rotate(10.42)"><text x="249.00" y="-5.01" text-anchor="middle" font-size="6.5" textLength="64.0" lengthAdjust="spacingAndGlyphs">Cybersecurity and external</text><text x="249.00" y="2.27" text-anchor="middle" font-size="6.5" textLength="64.0" lengthAdjust="spacingAndGlyphs">audit : the disclosure of risk</text><text x="249.00" y="9.56" text-anchor="middle" font-size="6.5" textLength="61.4" lengthAdjust="spacingAndGlyphs">factors in annual reports</text></g></g><g fill="#ece8cc" stroke="#ece8cc" stroke-width="0.25"><g transform="translate(455.9,418.3) rotate(19.34)"><text x="249.00" y="-2.31" text-anchor="middle" font-size="11" textLength="48.4" lengthAdjust="spacingAndGlyphs">Russia and</text><text x="249.00" y="10.01" text-anchor="middle" font-size="11" textLength="59.7" lengthAdjust="spacingAndGlyphs">cyber security</text></g></g><g fill="#ece8cc" stroke="#ece8cc" stroke-width="0.25"><g transform="translate(455.9,418.3) rotate(28.26)"><text x="249.00" y="-6.55" text-anchor="middle" font-size="8.5" textLength="56.5" lengthAdjust="spacingAndGlyphs">National Security</text><text x="249.00" y="2.97" text-anchor="middle" font-size="8.5" textLength="64.0" lengthAdjust="spacingAndGlyphs">Zone in International</text><text x="249.00" y="12.50" text-anchor="middle" font-size="8.5" textLength="42.7" lengthAdjust="spacingAndGlyphs">Cyber Affairs</text></g></g><text font-size="29" fill="#ece8cc" stroke="#ece8cc" stroke-width="0.3"><textPath href="#p2_0" textLength="95.8" lengthAdjust="spacingAndGlyphs">Como Os</textPath></text><text font-size="29" fill="#ece8cc" stroke="#ece8cc" stroke-width="0.3"><textPath href="#p2_1" textLength="34.2" lengthAdjust="spacingAndGlyphs">(7)</textPath></text><g fill="#e0eccc" stroke="#e0eccc" stroke-width="0.25"><g transform="translate(455.9,418.3) rotate(38.90)"><text x="249.00" y="-5.01" text-anchor="middle" font-size="6.5" textLength="63.6" lengthAdjust="spacingAndGlyphs">Threat intelligence: using</text><text x="249.00" y="2.27" text-anchor="middle" font-size="6.5" textLength="64.0" lengthAdjust="spacingAndGlyphs">valid and security metrics to</text><text x="249.00" y="9.56" text-anchor="middle" font-size="6.5" textLength="64.0" lengthAdjust="spacingAndGlyphs">enhance siem capabilities</text></g></g><g fill="#e0eccc" stroke="#e0eccc" stroke-width="0.25"><g transform="translate(455.9,418.3) rotate(46.86)"><text x="249.00" y="-2.10" text-anchor="middle" font-size="10" textLength="64.0" lengthAdjust="spacingAndGlyphs">Continuous Security</text><text x="249.00" y="9.10" text-anchor="middle" font-size="10" textLength="47.9" lengthAdjust="spacingAndGlyphs">Assessment</text></g></g><g fill="#e0eccc" stroke="#e0eccc" stroke-width="0.25"><g transform="translate(455.9,418.3) rotate(54.82)"><text x="249.00" y="-4.77" text-anchor="middle" font-size="6.2" textLength="64.0" lengthAdjust="spacingAndGlyphs">User behaviour analytics in the</text><text x="249.00" y="2.17" text-anchor="middle" font-size="6.2" textLength="64.0" lengthAdjust="spacingAndGlyphs">contact center: insider threat</text><text x="249.00" y="9.11" text-anchor="middle" font-size="6.2" textLength="64.0" lengthAdjust="spacingAndGlyphs">detection... User behavior...</text></g></g><g fill="#e0eccc" stroke="#e0eccc" stroke-width="0.25"><g transform="translate(455.9,418.3) rotate(62.78)"><text x="249.00" y="-5.01" text-anchor="middle" font-size="6.5" textLength="56.6" lengthAdjust="spacingAndGlyphs">Automatic detection of</text><text x="249.00" y="2.27" text-anchor="middle" font-size="6.5" textLength="60.1" lengthAdjust="spacingAndGlyphs">anomalous user access</text><text x="249.00" y="9.56" text-anchor="middle" font-size="6.5" textLength="63.6" lengthAdjust="spacingAndGlyphs">patterns to sensitive data</text></g></g><g fill="#e0eccc" stroke="#e0eccc" stroke-width="0.25"><g transform="translate(455.9,418.3) rotate(70.74)"><text x="249.00" y="-8.65" text-anchor="middle" font-size="6.5" textLength="55.3" lengthAdjust="spacingAndGlyphs">Improving cyberthreat</text><text x="249.00" y="-1.37" text-anchor="middle" font-size="6.5" textLength="63.3" lengthAdjust="spacingAndGlyphs">discovery in open source</text><text x="249.00" y="5.92" text-anchor="middle" font-size="6.5" textLength="58.2" lengthAdjust="spacingAndGlyphs">intelligence using deep</text><text x="249.00" y="13.20" text-anchor="middle" font-size="6.5" textLength="49.6" lengthAdjust="spacingAndGlyphs">learning techniques</text></g></g><g fill="#e0eccc" stroke="#e0eccc" stroke-width="0.25"><g transform="translate(455.9,418.3) rotate(78.70)"><text x="249.00" y="-8.25" text-anchor="middle" font-size="6.2" textLength="64.0" lengthAdjust="spacingAndGlyphs">Towards an Intrusion Detection</text><text x="249.00" y="-1.30" text-anchor="middle" font-size="6.2" textLength="63.1" lengthAdjust="spacingAndGlyphs">System for Smart Grids: A</text><text x="249.00" y="5.64" text-anchor="middle" font-size="6.2" textLength="60.7" lengthAdjust="spacingAndGlyphs">Federated Approach: Em</text><text x="249.00" y="12.59" text-anchor="middle" font-size="6.2" textLength="62.2" lengthAdjust="spacingAndGlyphs">Busca de um Sistema d...</text></g></g><text font-size="26" fill="#e0eccc" stroke="#e0eccc" stroke-width="0.3"><textPath href="#p3_0" textLength="108.1" lengthAdjust="spacingAndGlyphs">Faculdade de</textPath></text><text font-size="26" fill="#e0eccc" stroke="#e0eccc" stroke-width="0.3"><textPath href="#p3_1" textLength="107.2" lengthAdjust="spacingAndGlyphs">Ciências (6)</textPath></text><g fill="#dcecce" stroke="#dcecce" stroke-width="0.25"><g transform="translate(455.9,418.3) rotate(86.66)"><text x="249.00" y="-5.01" text-anchor="middle" font-size="6.5" textLength="63.6" lengthAdjust="spacingAndGlyphs">Threat intelligence: using</text><text x="249.00" y="2.27" text-anchor="middle" font-size="6.5" textLength="64.0" lengthAdjust="spacingAndGlyphs">valid and security metrics to</text><text x="249.00" y="9.56" text-anchor="middle" font-size="6.5" textLength="64.0" lengthAdjust="spacingAndGlyphs">enhance siem capabilities</text></g></g><g fill="#dcecce" stroke="#dcecce" stroke-width="0.25"><g transform="translate(455.9,418.3) rotate(274.62)"><text x="-249.00" y="-5.78" text-anchor="middle" font-size="7.5" textLength="61.6" lengthAdjust="spacingAndGlyphs">Intelligent System for</text><text x="-249.00" y="2.62" text-anchor="middle" font-size="7.5" textLength="64.0" lengthAdjust="spacingAndGlyphs">Automation of Security</text><text x="-249.00" y="11.03" text-anchor="middle" font-size="7.5" textLength="44.0" lengthAdjust="spacingAndGlyphs">Audits (SIAAS)</text></g></g><g fill="#dcecce" stroke="#dcecce" stroke-width="0.25"><g transform="translate(455.9,418.3) rotate(282.58)"><text x="-249.00" y="-2.21" text-anchor="middle" font-size="10.5" textLength="53.9" lengthAdjust="spacingAndGlyphs">Mestrado em</text><text x="-249.00" y="9.55" text-anchor="middle" font-size="10.5" textLength="64.0" lengthAdjust="spacingAndGlyphs">Cibersegurança</text></g></g><g fill="#dcecce" stroke="#dcecce" stroke-width="0.25"><g transform="translate(455.9,418.3) rotate(290.54)"><text x="-249.00" y="-8.65" text-anchor="middle" font-size="6.5" textLength="55.3" lengthAdjust="spacingAndGlyphs">Improving cyberthreat</text><text x="-249.00" y="-1.37" text-anchor="middle" font-size="6.5" textLength="63.3" lengthAdjust="spacingAndGlyphs">discovery in open source</text><text x="-249.00" y="5.92" text-anchor="middle" font-size="6.5" textLength="58.2" lengthAdjust="spacingAndGlyphs">intelligence using deep</text><text x="-249.00" y="13.20" text-anchor="middle" font-size="6.5" textLength="49.6" lengthAdjust="spacingAndGlyphs">learning techniques</text></g></g><g fill="#dcecce" stroke="#dcecce" stroke-width="0.25"><g transform="translate(455.9,418.3) rotate(298.50)"><text x="-249.00" y="-8.65" text-anchor="middle" font-size="6.5" textLength="51.2" lengthAdjust="spacingAndGlyphs">Big data analytics: a</text><text x="-249.00" y="-1.37" text-anchor="middle" font-size="6.5" textLength="64.0" lengthAdjust="spacingAndGlyphs">predictive analysis applied</text><text x="-249.00" y="5.92" text-anchor="middle" font-size="6.5" textLength="50.9" lengthAdjust="spacingAndGlyphs">to cybersecurity in a</text><text x="-249.00" y="13.20" text-anchor="middle" font-size="6.5" textLength="53.7" lengthAdjust="spacingAndGlyphs">financial organization</text></g></g><g fill="#dcecce" stroke="#dcecce" stroke-width="0.25"><g transform="translate(455.9,418.3) rotate(306.46)"><text x="-249.00" y="-8.65" text-anchor="middle" font-size="6.5" textLength="64.0" lengthAdjust="spacingAndGlyphs">A serious game for teaching</text><text x="-249.00" y="-1.37" text-anchor="middle" font-size="6.5" textLength="62.9" lengthAdjust="spacingAndGlyphs">Java cybersecurity in the</text><text x="-249.00" y="5.92" text-anchor="middle" font-size="6.5" textLength="64.0" lengthAdjust="spacingAndGlyphs">industry with an intelligent</text><text x="-249.00" y="13.20" text-anchor="middle" font-size="6.5" textLength="15.3" lengthAdjust="spacingAndGlyphs">coach</text></g></g><text font-size="27" fill="#dcecce" stroke="#dcecce" stroke-width="0.3"><textPath href="#p4_0" textLength="105.4" lengthAdjust="spacingAndGlyphs">Intelligence</textPath></text><text font-size="27" fill="#dcecce" stroke="#dcecce" stroke-width="0.3"><textPath href="#p4_1" textLength="25.4" lengthAdjust="spacingAndGlyphs">(6)</textPath></text><g fill="#dcf0d0" stroke="#dcf0d0" stroke-width="0.25"><g transform="translate(455.9,418.3) rotate(314.42)"><text x="-249.00" y="-1.58" text-anchor="middle" font-size="7.5" textLength="64.0" lengthAdjust="spacingAndGlyphs">O que é cibersegurança</text><text x="-249.00" y="6.83" text-anchor="middle" font-size="7.5" textLength="26.4" lengthAdjust="spacingAndGlyphs">- Fortinet</text></g></g><g fill="#dcf0d0" stroke="#dcf0d0" stroke-width="0.25"><g transform="translate(455.9,418.3) rotate(322.38)"><text x="-249.00" y="-5.78" text-anchor="middle" font-size="7.5" textLength="64.0" lengthAdjust="spacingAndGlyphs">O que é Cibersegurança?</text><text x="-249.00" y="2.62" text-anchor="middle" font-size="7.5" textLength="64.0" lengthAdjust="spacingAndGlyphs">Tipos, Ameaças e Práticas</text><text x="-249.00" y="11.03" text-anchor="middle" font-size="7.5" textLength="43.7" lengthAdjust="spacingAndGlyphs">recomendadas</text></g></g><g fill="#dcf0d0" stroke="#dcf0d0" stroke-width="0.25"><g transform="translate(455.9,418.3) rotate(330.34)"><text x="-249.00" y="-5.78" text-anchor="middle" font-size="7.5" textLength="64.0" lengthAdjust="spacingAndGlyphs">O que é uma Avaliação</text><text x="-249.00" y="2.62" text-anchor="middle" font-size="7.5" textLength="34.9" lengthAdjust="spacingAndGlyphs">de Risco de</text><text x="-249.00" y="11.03" text-anchor="middle" font-size="7.5" textLength="50.3" lengthAdjust="spacingAndGlyphs">Cibersegurança?</text></g></g><g fill="#dcf0d0" stroke="#dcf0d0" stroke-width="0.25"><g transform="translate(455.9,418.3) rotate(338.30)"><text x="-249.00" y="-5.54" text-anchor="middle" font-size="7.2" textLength="50.7" lengthAdjust="spacingAndGlyphs">Qual é o futuro da</text><text x="-249.00" y="2.52" text-anchor="middle" font-size="7.2" textLength="41.9" lengthAdjust="spacingAndGlyphs">governança de</text><text x="-249.00" y="10.58" text-anchor="middle" font-size="7.2" textLength="64.0" lengthAdjust="spacingAndGlyphs">cibersegurança no Brasil?</text></g></g><g fill="#dcf0d0" stroke="#dcf0d0" stroke-width="0.25"><g transform="translate(455.9,418.3) rotate(346.26)"><text x="-249.00" y="-5.01" text-anchor="middle" font-size="6.5" textLength="64.0" lengthAdjust="spacingAndGlyphs">Cybersecurity and external</text><text x="-249.00" y="2.27" text-anchor="middle" font-size="6.5" textLength="64.0" lengthAdjust="spacingAndGlyphs">audit : the disclosure of risk</text><text x="-249.00" y="9.56" text-anchor="middle" font-size="6.5" textLength="61.4" lengthAdjust="spacingAndGlyphs">factors in annual reports</text></g></g><g fill="#dcf0d0" stroke="#dcf0d0" stroke-width="0.25"><g transform="translate(455.9,418.3) rotate(354.22)"><text x="-249.00" y="-2.21" text-anchor="middle" font-size="10.5" textLength="48.8" lengthAdjust="spacingAndGlyphs">Certificação</text><text x="-249.00" y="9.55" text-anchor="middle" font-size="10.5" textLength="64.0" lengthAdjust="spacingAndGlyphs">QNRCS - CNCS</text></g></g><text font-size="30" fill="#dcf0d0" stroke="#dcf0d0" stroke-width="0.3"><textPath href="#p5_0" textLength="76.6" lengthAdjust="spacingAndGlyphs">O Que É</textPath></text><text font-size="29" fill="#dcf0d0" stroke="#dcf0d0" stroke-width="0.3"><textPath href="#p5_1" textLength="30.3" lengthAdjust="spacingAndGlyphs">(6)</textPath></text><path d="M 471.33 135.22 L 488.29 155.29 L 469.40 170.67 Z" fill="rgba(190,205,225,0.22)" stroke="rgba(215,225,240,0.35)" stroke-width="0.8"/><path d="M 716.47 306.62 L 706.01 330.71 L 683.85 320.60 Z" fill="rgba(190,205,225,0.22)" stroke="rgba(215,225,240,0.35)" stroke-width="0.8"/><path d="M 694.41 571.54 L 668.59 576.37 L 664.55 552.35 Z" fill="rgba(190,205,225,0.22)" stroke="rgba(215,225,240,0.35)" stroke-width="0.8"/><path d="M 240.99 424.68 L 263.70 401.82 L 287.57 423.30 Z" fill="rgba(190,205,225,0.22)" stroke="rgba(215,225,240,0.35)" stroke-width="0.8"/>
<path d="M 109.90 636.23 A 24.7 24.7 0 0 1 139.13 624.71 L 136.94 631.46 A 17.6 17.6 0 0 0 116.11 639.67 Z" fill="#4cc24c"/><path d="M 119.36 636.88 A 16.6 16.6 0 0 1 140.78 634.44 L 136.31 641.07 A 8.6 8.6 0 0 0 125.21 642.33 Z" fill="#47ba47"/><path d="M 149.27 631.04 A 24.7 24.7 0 0 1 144.95 668.92 L 141.09 662.96 A 17.6 17.6 0 0 0 144.16 635.97 Z" fill="#d04444"/><path d="M 146.78 641.71 A 16.6 16.6 0 0 1 136.63 663.99 L 134.16 656.38 A 8.6 8.6 0 0 0 139.42 644.84 Z" fill="#e43b47"/><path d="M 131.50 672.90 A 24.7 24.7 0 0 1 106.80 648.20 L 113.90 648.20 A 17.6 17.6 0 0 0 131.50 665.80 Z" fill="#cd7a35"/><path d="M 127.77 664.37 A 16.6 16.6 0 0 1 115.47 643.90 L 123.19 645.97 A 8.6 8.6 0 0 0 129.57 656.58 Z" fill="#f3b13c"/><text x="131.5" y="690" text-anchor="middle" font-family="Liberation Serif, serif" font-size="21" fill="#b63c3a" textLength="54" lengthAdjust="spacingAndGlyphs">Circles</text><path d="M 0 684.5 L 243.5 684.5 Q 247 684.5 247 688 L 247 705 L 0 705 Z" fill="#e3aa99"/><text x="3.7" y="699.3" font-size="12" fill="#3b3232" textLength="236.8" lengthAdjust="spacingAndGlyphs">https://en.wikipedia.org/wiki/Paula_Margarido</text><rect x="0" y="705" width="1400" height="8" fill="#16272d"/><rect x="0" y="705" width="1400" height="0.8" fill="#2a3b41"/>
</svg></body></html>
